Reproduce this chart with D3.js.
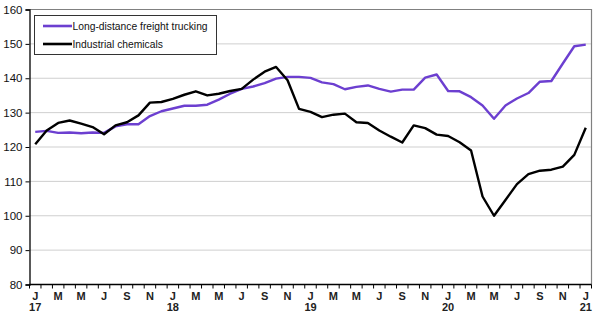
<!DOCTYPE html>
<html><head><meta charset="utf-8">
<script src="https://cdn.jsdelivr.net/npm/d3@7"></script>
<style>
body{margin:0;background:#fff;}
text{font-family:"Liberation Sans",Arial,sans-serif;}
</style></head><body>
<svg id="chart" width="600" height="324"></svg>
<script>
const monthLabels = ["J","F","M","A","M","J","J","A","S","O","N","D"];
const yearLabels = ["17","18","19","20","21"];
const seriesNames = ["Long-distance freight trucking","Industrial chemicals"];
const freight = [124.4,124.7,124.1,124.2,124.0,124.2,124.1,126.0,126.6,126.6,129.0,130.4,
  131.2,132.0,132.0,132.3,133.8,135.5,136.9,137.6,138.6,139.9,140.4,140.4,
  140.1,138.8,138.3,136.8,137.5,137.9,136.9,136.1,136.7,136.7,140.2,141.1,
  136.3,136.2,134.5,132.1,128.2,132.1,134.1,135.7,139.0,139.2,144.3,149.3,149.8];
const chemicals = [120.8,124.8,127.0,127.7,126.8,125.8,123.7,126.3,127.2,129.2,132.9,133.1,
  134.0,135.2,136.2,135.0,135.5,136.3,136.9,139.6,141.9,143.3,139.4,131.1,
  130.2,128.7,129.4,129.7,127.2,127.0,124.8,123.0,121.3,126.3,125.5,123.6,
  123.2,121.4,119.0,105.6,100.0,104.6,109.2,112.1,113.1,113.4,114.3,117.7,125.6];
const yTicks = [80,90,100,110,120,130,140,150,160];
const colors = ["#6c3fd0","#000000"];

const svg = d3.select("#chart");
const L=29.5, R=591.5, T=9.5, B=284.5;
const idx = d3.range(freight.length);
const x = d3.scaleBand().domain(idx).range([L,R]);
const cx = i => x(i)+x.bandwidth()/2;
const y = d3.scaleLinear().domain([80,160]).range([B,T]);

// grid
svg.append("g").selectAll("line").data(yTicks.filter(v=>v>80&&v<160)).join("line")
  .attr("x1",L).attr("x2",R).attr("y1",d=>y(d)).attr("y2",d=>y(d))
  .attr("stroke","#cfcfcf").attr("stroke-width",1);
// top & right border
svg.append("path").attr("d",`M${L},${T}H${R}V${B}`).attr("fill","none").attr("stroke","#808080").attr("stroke-width",1.2);

// y axis
const yAxis = svg.append("g").attr("transform",`translate(${L},0)`)
  .call(d3.axisLeft(y).tickValues(yTicks).tickSize(4).tickPadding(3));
yAxis.select(".domain").attr("stroke","#000").attr("stroke-width",1.3);
yAxis.selectAll("text").attr("font-size",11.5).attr("fill","#111");

// x axis with boundary ticks
const xg = svg.append("g");
xg.append("line").attr("x1",L).attr("x2",R).attr("y1",B).attr("y2",B).attr("stroke","#000").attr("stroke-width",1.3);
const bounds = idx.map(i=>x(i)).concat([R]);
xg.selectAll("line.t").data(bounds).join("line").attr("class","t")
  .attr("x1",d=>d).attr("x2",d=>d).attr("y1",B).attr("y2",B+4).attr("stroke","#000");
xg.selectAll("text.m").data(idx.filter(i=>i%2===0)).join("text").attr("class","m")
  .attr("x",d=>cx(d)).attr("y",300).attr("text-anchor","middle")
  .attr("font-size",11).attr("font-weight","bold").attr("fill","#222")
  .text(d=>monthLabels[d%12]);
xg.selectAll("text.yr").data(idx.filter(i=>i%12===0)).join("text").attr("class","yr")
  .attr("x",d=>cx(d)).attr("y",311).attr("text-anchor","middle")
  .attr("font-size",11).attr("font-weight","bold").attr("fill","#222")
  .text(d=>yearLabels[d/12]);

// lines
const line = d3.line().x((d,i)=>cx(i)).y(d=>y(d));
[freight, chemicals].forEach((s,k)=>{
  svg.append("path").datum(s).attr("d",line).attr("fill","none")
    .attr("stroke",colors[k]).attr("stroke-width",2.4).attr("stroke-linejoin","round");
});

// legend
const lg = svg.append("g");
lg.append("rect").attr("x",34.5).attr("y",15.5).attr("width",182).attr("height",39)
  .attr("fill","#fff").attr("stroke","#333").attr("stroke-width",1);
seriesNames.forEach((n,k)=>{
  const yy = 26 + k*18;
  lg.append("line").attr("x1",43).attr("x2",72).attr("y1",yy).attr("y2",yy)
    .attr("stroke",colors[k]).attr("stroke-width",2.6);
  lg.append("text").attr("x",72.5).attr("y",yy+3.8).attr("font-size",10.3).attr("fill","#111").text(n);
});
</script>
</body></html>
